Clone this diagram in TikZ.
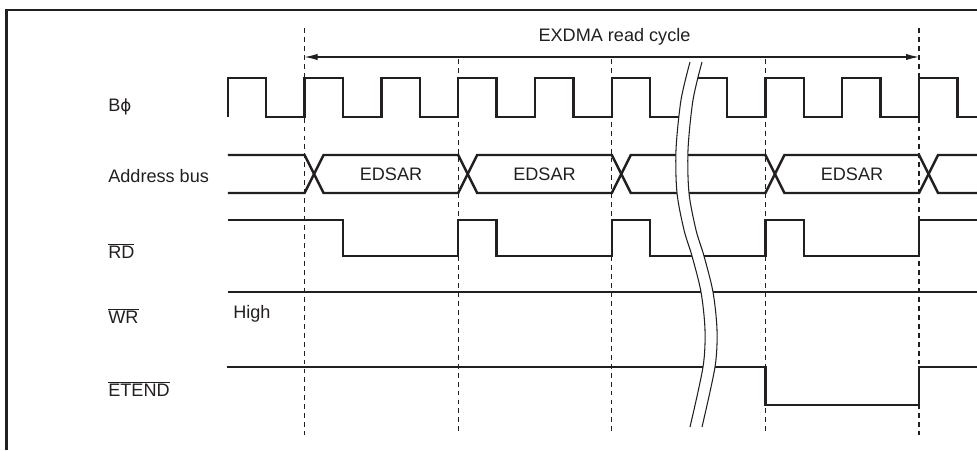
\documentclass[tikz,border=0pt]{standalone}
\usepackage{fontspec}
\usepackage{tikz}
\setmainfont{Liberation Sans}
\newfontfamily\greekfont{DejaVu Sans}
\usetikzlibrary{arrows.meta,positioning}
\definecolor{InkBlack}{RGB}{35,31,32}
\newcommand{\ovl}[1]{$\overline{\mbox{#1}}$}

\begin{document}
\begin{tikzpicture}[x=0.02cm, y=-0.02cm,
  every node/.style={font=\fontsize{10.3pt}{12pt}\selectfont, text=InkBlack, inner sep=0pt},
  signal/.style={draw=InkBlack, line width=1.4pt, line join=miter},
  cyclemark/.style={draw=InkBlack, line width=0.6pt, dash pattern=on 2.8pt off 2.3pt},
  breakline/.style={draw=InkBlack, line width=0.6pt},
  lbl/.style={anchor=west}]
\useasboundingbox (0,0) rectangle (977,450);
% frame
\draw[line width=1.4pt, InkBlack] (6.5,450) -- (6.5,10) -- (977,10);
% cycle boundaries
\draw[cyclemark] (304.6,28) -- (304.6,435);
\draw[cyclemark] (919,28) -- (919,435);
\foreach \xx in {458.2,611.8,765.4}
  \draw[cyclemark] (\xx,59) -- (\xx,435);
% read cycle arrow
\coordinate (cs) at (304.6,57);
\coordinate (ce) at (919,57);
\draw[InkBlack, line width=0.6pt, {Latex[length=7.4pt,width=3.6pt]}-{Latex[length=7.4pt,width=3.6pt]}] (cs) -- (ce);
\node (cyc) at (614.5,37) {EXDMA read cycle};
% signal names
\node[lbl] (bphi) at (108,107) {B{\greekfont\fontsize{9.5pt}{12pt}\selectfont ϕ}};
\node[lbl] (abus) at (108,176) {Address bus};
\node[lbl] (rd) at (108,251) {\ovl{RD}};
\node[lbl] (wr) at (108,316) {\ovl{WR}};
\node[lbl] (etend) at (108,389) {\ovl{ETEND}};
% B phi
\draw[signal] (227.8,117) -- (227.8,78) -- (266.2,78) -- (266.2,117) -- (304.6,117) -- (304.6,78)
  -- (343,78) -- (343,117) -- (381.4,117) -- (381.4,78) -- (419.8,78) -- (419.8,117)
  -- (458.2,117) -- (458.2,78) -- (496.6,78) -- (496.6,117) -- (535,117) -- (535,78)
  -- (573.4,78) -- (573.4,117) -- (611.8,117) -- (611.8,78) -- (650.2,78) -- (650.2,117) -- (682,117);
\draw[signal] (690,78) -- (727,78) -- (727,117) -- (765.4,117) -- (765.4,78) -- (803.8,78)
  -- (803.8,117) -- (842.2,117) -- (842.2,78) -- (880.6,78) -- (880.6,117) -- (919,117)
  -- (919,78) -- (957.4,78) -- (957.4,117) -- (977,117);
% address bus
\draw[signal] (227.8,155) -- (304.6,155) -- (323.6,193) -- (458.2,193) -- (477.2,155) -- (611.8,155)
  -- (630.8,193) -- (765.4,193) -- (784.4,155) -- (919,155) -- (938,193) -- (977,193);
\draw[signal] (227.8,193) -- (304.6,193) -- (323.6,155) -- (458.2,155) -- (477.2,193) -- (611.8,193)
  -- (630.8,155) -- (765.4,155) -- (784.4,193) -- (919,193) -- (938,155) -- (977,155);
\node (ea1) at (391,174) {EDSAR};
\node (ea2) at (544.5,174) {EDSAR};
\node (ea3) at (852,174) {EDSAR};
% RD
\draw[signal] (227.8,220) -- (343,220) -- (343,256) -- (458.2,256) -- (458.2,220) -- (496.6,220)
  -- (496.6,256) -- (611.8,256) -- (611.8,220) -- (650.2,220) -- (650.2,256) -- (765.4,256)
  -- (765.4,220) -- (803.8,220) -- (803.8,256) -- (919,256) -- (919,220) -- (977,220);
% WR
\draw[signal] (227.8,292) -- (977,292);
\node[lbl] (high) at (233,314) {High};
% ETEND
\draw[signal] (227,367) -- (765.4,367) -- (765.4,405) -- (919,405) -- (919,367) -- (977,367);
% break
\fill[white] plot[smooth] coordinates {(690,62) (681,100) (676,150) (677,193) (684,230) (692,256) (701,292) (705,330) (703,367) (690,427)}
  -- plot[smooth] coordinates {(702,427) (715,367) (717,330) (713,292) (704,256) (696,230) (689,193) (688,150) (693,100) (702,62)} -- cycle;
\draw[breakline] plot[smooth] coordinates {(690,62) (681,100) (676,150) (677,193) (684,230) (692,256) (701,292) (705,330) (703,367) (690,427)};
\draw[breakline] plot[smooth] coordinates {(702,62) (693,100) (688,150) (689,193) (696,230) (704,256) (713,292) (717,330) (715,367) (702,427)};
\end{tikzpicture}
\end{document}
